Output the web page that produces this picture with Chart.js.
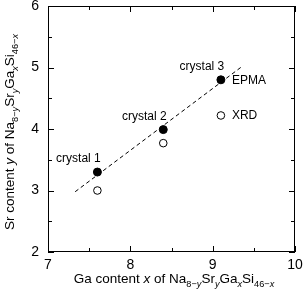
<!DOCTYPE html>
<html>
<head>
<meta charset="utf-8">
<script src="https://cdn.jsdelivr.net/npm/chart.js@4"></script>
<style>
  html, body { margin: 0; padding: 0; background: #fff; }
  #box { width: 307px; height: 297px; }
</style>
</head>
<body>
<div id="box"><canvas id="sensorChart"></canvas></div>
<script>
// values
const crystals = ['crystal 1', 'crystal 2', 'crystal 3'];
const gaContent = [7.6, 8.4, 9.1];
const srEpma = [3.3, 3.99, 4.8];
const srXrd = [3.0, 3.77, 4.22];
const fitX = [7.33, 9.37];
const fitY = [2.98, 5.03];
const xTicks = [7, 8, 9, 10];
const yTicks = [2, 3, 4, 5, 6];

const FONT = '"Liberation Sans", Arial, sans-serif';

// text with sub-scripts, parts = [[text, isSub, isItalic], ...]
function partFont(p, size) {
    return (p[2] ? 'italic ' : '') + (p[1] ? size * 0.68 : size) + 'px ' + FONT;
}
function richWidth(ctx, parts, size) {
    let w = 0;
    parts.forEach(p => { ctx.font = partFont(p, size); w += ctx.measureText(p[0]).width; });
    return w;
}
function drawRich(ctx, parts, x, y, size) {
    parts.forEach(p => {
        ctx.font = partFont(p, size);
        ctx.fillText(p[0], x, p[1] ? y + size * 0.28 : y);
        x += ctx.measureText(p[0]).width;
    });
}

const formula = [['Na', 0], ['8\u2212', 1], ['y', 1, 1], ['Sr', 0], ['y', 1, 1], ['Ga', 0], ['x', 1, 1], ['Si', 0], ['46\u2212', 1], ['x', 1, 1]];
const xTitle = [['Ga content ', 0], ['x', 0, 1], [' of ', 0]].concat(formula);
const yTitle = [['Sr content ', 0], ['y', 0, 1], [' of ', 0]].concat(formula);

const decorPlugin = {
    id: 'decor',
    afterDatasetsDraw(chart) {
        const ctx = chart.ctx;
        const a = chart.chartArea;
        const xs = chart.scales.x, ys = chart.scales.y;
        ctx.save();
        ctx.strokeStyle = '#000';
        ctx.lineWidth = 1;
        // frame
        ctx.strokeRect(a.left + 0.5, a.top + 0.5, a.right - a.left - 1, a.bottom - a.top - 1);
        // inward ticks, major at integers, minor at halves
        ctx.beginPath();
        for (let v = xTicks[0]; v <= xTicks[xTicks.length - 1]; v += 0.5) {
            const px = Math.round(xs.getPixelForValue(v)) + 0.5;
            const len = Number.isInteger(v) ? 6 : 4;
            ctx.moveTo(px, a.bottom); ctx.lineTo(px, a.bottom - len);
            ctx.moveTo(px, a.top); ctx.lineTo(px, a.top + len);
        }
        for (let v = yTicks[0]; v <= yTicks[yTicks.length - 1]; v += 0.5) {
            const py = Math.round(ys.getPixelForValue(v)) + 0.5;
            const len = Number.isInteger(v) ? 6 : 4;
            ctx.moveTo(a.left, py); ctx.lineTo(a.left + len, py);
            ctx.moveTo(a.right, py); ctx.lineTo(a.right - len, py);
        }
        ctx.stroke();

        // tick labels
        ctx.fillStyle = '#000';
        ctx.font = '14px ' + FONT;
        ctx.textBaseline = 'middle';
        ctx.textAlign = 'center';
        xTicks.forEach(v => ctx.fillText(String(v), xs.getPixelForValue(v), a.bottom + 13));
        ctx.textAlign = 'right';
        yTicks.forEach(v => ctx.fillText(String(v), a.left - 9, ys.getPixelForValue(v)));

        // point labels
        ctx.font = '12px ' + FONT;
        ctx.textAlign = 'center';
        for (let i = 0; i < crystals.length; i++) {
            const px = xs.getPixelForValue(gaContent[i]);
            const py = ys.getPixelForValue(srEpma[i]);
            ctx.fillText(crystals[i], px - 19, py - 13);
        }
        ctx.textAlign = 'left';
        const last = crystals.length - 1;
        ctx.fillText('EPMA', xs.getPixelForValue(gaContent[last]) + 11, ys.getPixelForValue(srEpma[last]) + 1);
        ctx.fillText('XRD', xs.getPixelForValue(gaContent[last]) + 11, ys.getPixelForValue(srXrd[last]));

        // axis titles
        ctx.textBaseline = 'alphabetic';
        const size = 13.5;
        const xw = richWidth(ctx, xTitle, size);
        drawRich(ctx, xTitle, 174 - xw / 2, 283, size);
        ctx.translate(14, 132);
        ctx.rotate(-Math.PI / 2);
        const yw = richWidth(ctx, yTitle, size);
        drawRich(ctx, yTitle, -yw / 2, 0, size);
        ctx.restore();
    }
};

let ctx = document.getElementById('sensorChart').getContext('2d');
new Chart(ctx, {
    type: 'scatter',
    data: {
        datasets: [{
            label: 'fit',
            type: 'line',
            data: fitX.map((x, i) => ({x: x, y: fitY[i]})),
            borderColor: '#000',
            borderWidth: 1,
            borderDash: [4, 3],
            pointRadius: 0,
            fill: false
        }, {
            label: 'EPMA',
            data: gaContent.map((x, i) => ({x: x, y: srEpma[i]})),
            backgroundColor: '#000',
            borderColor: '#000',
            pointRadius: 4,
            borderWidth: 1
        }, {
            label: 'XRD',
            data: gaContent.map((x, i) => ({x: x, y: srXrd[i]})),
            backgroundColor: '#fff',
            borderColor: '#000',
            pointRadius: 3.8,
            borderWidth: 1
        }]
    },
    options: {
        responsive: true,
        maintainAspectRatio: false,
        animation: false,
        layout: {padding: {top: 6, right: 12, left: 0, bottom: 0}},
        plugins: {legend: {display: false}, tooltip: {enabled: false}},
        scales: {
            x: {
                type: 'linear',
                min: xTicks[0],
                max: xTicks[xTicks.length - 1],
                afterFit: s => { s.height = 45; },
                grid: {display: false},
                border: {display: false},
                ticks: {display: false}
            },
            y: {
                type: 'linear',
                min: yTicks[0],
                max: yTicks[yTicks.length - 1],
                afterFit: s => { s.width = 48; },
                grid: {display: false},
                border: {display: false},
                ticks: {display: false}
            }
        }
    },
    plugins: [decorPlugin]
});
</script>
</body>
</html>
